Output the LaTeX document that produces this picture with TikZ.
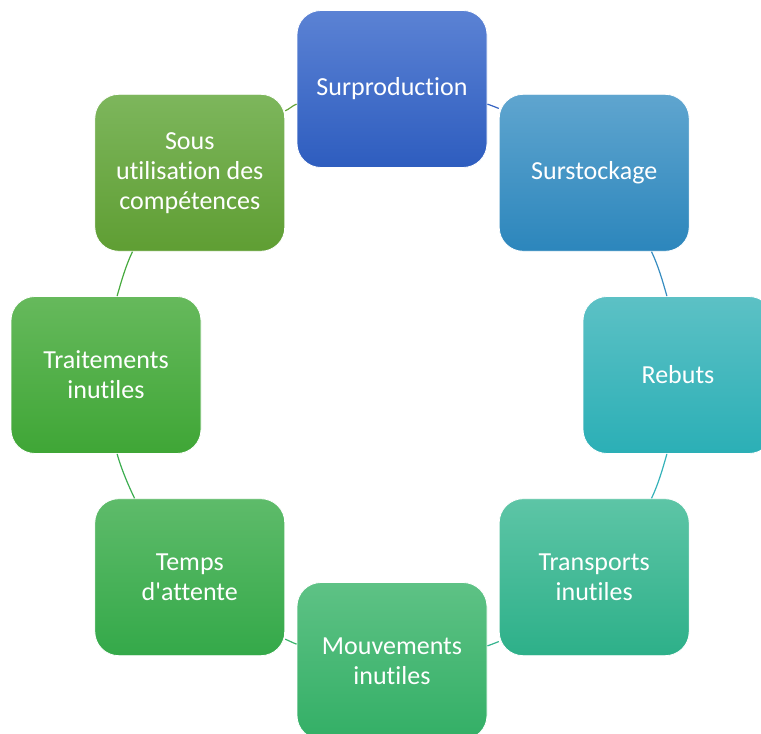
\documentclass[tikz,border=0pt]{standalone}
\usepackage{fontspec}
\setmainfont{Carlito}[RawFeature=-liga]
\definecolor{prodtop}{HTML}{5B82D4}
\definecolor{prodbot}{HTML}{2E5DBF}
\definecolor{stocktop}{HTML}{5FA5CF}
\definecolor{stockbot}{HTML}{2C86BC}
\definecolor{rebtop}{HTML}{5CC1C5}
\definecolor{rebbot}{HTML}{2BAFB6}
\definecolor{transtop}{HTML}{5DC5A6}
\definecolor{transbot}{HTML}{2DB089}
\definecolor{mouvtop}{HTML}{5EC285}
\definecolor{mouvbot}{HTML}{33AF66}
\definecolor{attop}{HTML}{5EBB6A}
\definecolor{atbot}{HTML}{34A949}
\definecolor{traittop}{HTML}{66B95C}
\definecolor{traitbot}{HTML}{3FA636}
\definecolor{soustop}{HTML}{7DB65C}
\definecolor{sousbot}{HTML}{5F9E33}
\tikzset{
  waste/.style={rectangle, rounded corners=24pt, minimum width=190pt, minimum height=157pt,
    inner sep=0pt, draw=white, line width=0.8pt, text=white, align=center,
    font=\fontsize{26}{30}\selectfont},
  link/.style={line width=1.2pt, looseness=0.85},
}
\begin{document}
\begin{tikzpicture}[x=1pt,y=1pt]
\useasboundingbox (0,0) rectangle (761,734);
\clip (0,0) rectangle (761,734);
\node[waste, top color=prodtop, bottom color=prodbot] (prod) at (392,645) {Surproduction};
\node[waste, top color=stocktop, bottom color=stockbot] (stock) at (594.2,561.2) {Surstockage};
\node[waste, top color=rebtop, bottom color=rebbot] (rebuts) at (678,359) {Rebuts};
\node[waste, top color=transtop, bottom color=transbot] (trans) at (594.2,156.8) {Transports\\inutiles};
\node[waste, top color=mouvtop, bottom color=mouvbot] (mouv) at (392,73) {Mouvements\\inutiles};
\node[waste, top color=attop, bottom color=atbot] (attente) at (189.8,156.8) {Temps\\d\textquotesingle attente};
\node[waste, top color=traittop, bottom color=traitbot] (trait) at (106,359) {Traitements\\inutiles};
\node[waste, top color=soustop, bottom color=sousbot] (sous) at (189.8,561.2) {Sous\\utilisation des\\compétences};
% arcs of the cycle, from box to box
\draw[link, prodbot!80!prodtop] (prod.-9.7) to[out=-19.4, in=158] (stock.146.4);
\draw[link, stockbot!80!stocktop] (stock.-54.6) to[out=-64.4, in=105.9] (rebuts.98);
\draw[link, rebbot!80!rebtop] (rebuts.-98) to[out=-105.9, in=64.4] (trans.54.6);
\draw[link, transbot!80!transtop] (trans.-146.4) to[out=-158, in=19.4] (mouv.9.7);
\draw[link, mouvbot!80!mouvtop] (mouv.170.3) to[out=160.6, in=-22] (attente.-33.6);
\draw[link, atbot!80!attop] (attente.125.4) to[out=115.6, in=-74.1] (trait.-82);
\draw[link, traitbot!80!traittop] (trait.82) to[out=74.1, in=-115.6] (sous.234.6);
\draw[link, sousbot!80!soustop] (sous.33.6) to[out=22, in=199.4] (prod.189.7);
\end{tikzpicture}
\end{document}
